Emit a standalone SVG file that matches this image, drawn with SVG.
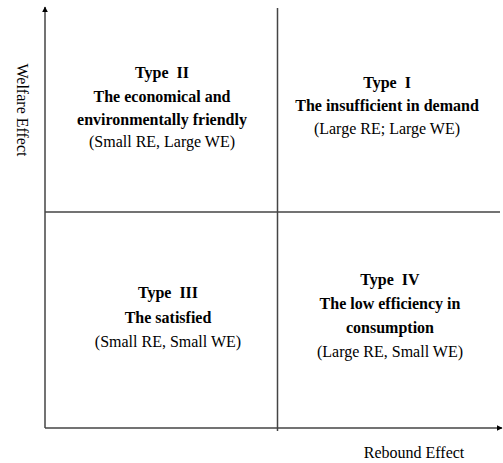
<svg xmlns="http://www.w3.org/2000/svg" width="503" height="463" viewBox="0 0 503 463">
<defs>
<marker id="arr" viewBox="0 0 10 10" refX="9" refY="5" markerWidth="6" markerHeight="6" markerUnits="userSpaceOnUse" orient="auto">
<path d="M0,0 L10,5 L0,10 z" fill="#000"/>
</marker>
</defs>
<style>
.ax{stroke:#444;stroke-width:1.5;fill:none}
text{font-size:16px;fill:#000;text-anchor:middle;white-space:pre}
.b{font-weight:bold}
</style>
<rect width="503" height="463" fill="#fff"/>
<g id="connectors">
<line class="ax" x1="45" y1="428" x2="45" y2="7" marker-end="url(#arr)"/>
<line class="ax" x1="45" y1="428" x2="502" y2="428" marker-end="url(#arr)"/>
<line class="ax" x1="45" y1="212" x2="500" y2="212"/>
<line class="ax" x1="277.5" y1="8" x2="277.5" y2="431"/>
</g>
<g font-family="'Liberation Serif', 'Times New Roman', serif">
<g id="axis-y-label"><text transform="translate(17,110) rotate(90)">Welfare Effect</text></g>
<g id="axis-x-label"><text x="414" y="458">Rebound Effect</text></g>
<g id="type2">
<text class="b" x="162" y="78">Type  II</text>
<text class="b" x="162" y="102">The economical and</text>
<text class="b" x="162" y="125">environmentally friendly</text>
<text x="162" y="147">(Small RE, Large WE)</text>
</g>
<g id="type1">
<text class="b" x="387" y="88">Type  I</text>
<text class="b" x="387" y="111">The insufficient in demand</text>
<text x="387" y="134">(Large RE; Large WE)</text>
</g>
<g id="type3">
<text class="b" x="168" y="298">Type  III</text>
<text class="b" x="168" y="323">The satisfied</text>
<text x="168" y="347">(Small RE, Small WE)</text>
</g>
<g id="type4">
<text class="b" x="390" y="285">Type  IV</text>
<text class="b" x="390" y="309">The low efficiency in</text>
<text class="b" x="390" y="333">consumption</text>
<text x="390" y="357">(Large RE, Small WE)</text>
</g>
</g>
</svg>
